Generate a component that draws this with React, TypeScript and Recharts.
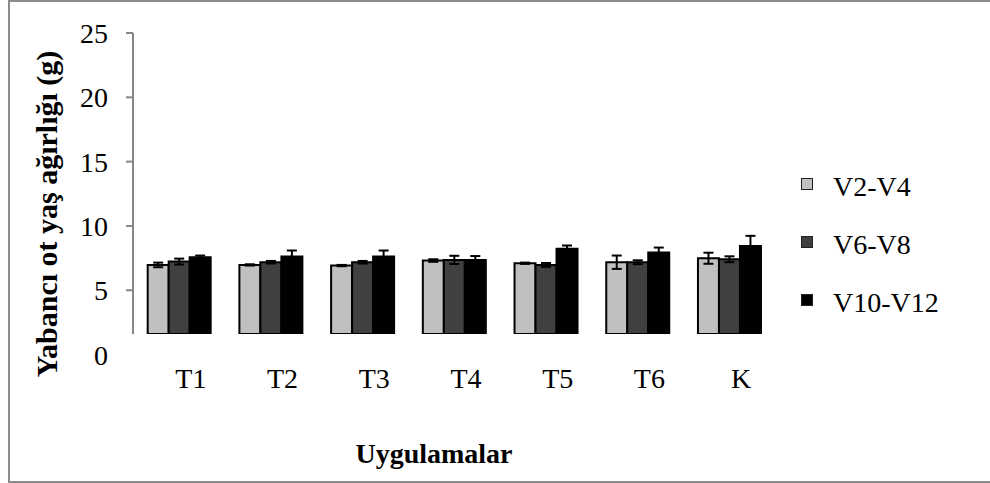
import React from 'react';
import { BarChart, Bar, XAxis, YAxis, ErrorBar, Legend, Label } from 'recharts';

const categories = ['T1', 'T2', 'T3', 'T4', 'T5', 'T6', 'K'];
const seriesNames = ['V2-V4', 'V6-V8', 'V10-V12'];
const seriesColors = ['#c0c0c0', '#404040', '#000000'];

const v2v4 = [6.97, 6.97, 6.92, 7.31, 7.1, 7.18, 7.49];
const v2v4Err = [0.18, 0.05, 0.05, 0.1, 0.05, 0.52, 0.43];
const v6v8 = [7.23, 7.18, 7.18, 7.36, 6.97, 7.18, 7.41];
const v6v8Err = [0.23, 0.1, 0.1, 0.32, 0.15, 0.15, 0.23];
const v10v12 = [7.57, 7.62, 7.62, 7.36, 8.22, 7.93, 8.45];
const v10v12Err = [0.13, 0.47, 0.47, 0.3, 0.26, 0.39, 0.78];

const yTicks = [0, 5, 10, 15, 20, 25];

const data = categories.map((name, i) => ({
  name,
  a: v2v4[i],
  aErr: v2v4Err[i],
  b: v6v8[i],
  bErr: v6v8Err[i],
  c: v10v12[i],
  cErr: v10v12Err[i],
}));

const FONT = '"Liberation Serif", "Times New Roman", serif';
const AXIS_GRAY = '#868686';

const YTick = (props: any) => {
  const { x, y, payload } = props;
  return (
    <g>
      {payload.value > 0 && (
        <line x1={x + 18} x2={x + 25} y1={y} y2={y} stroke={AXIS_GRAY} strokeWidth={2} />
      )}
      <text x={x} y={y} dy={10} textAnchor="end" fontSize={28} fontFamily={FONT} fill="#000">
        {payload.value}
      </text>
    </g>
  );
};

const XTick = (props: any) => {
  const { x, y, payload } = props;
  return (
    <text x={x + 12} y={y} dy={20} textAnchor="middle" fontSize={28} fontFamily={FONT} fill="#000">
      {payload.value}
    </text>
  );
};

const LegendContent = (props: any) => {
  const { payload = [] } = props;
  const items = [...payload].sort(
    (p: any, q: any) => seriesNames.indexOf(p.value) - seriesNames.indexOf(q.value)
  );
  return (
    <div style={{ fontFamily: FONT, fontSize: 28, color: '#000' }}>
      {items.map((entry: any) => (
        <div key={entry.value} style={{ display: 'flex', alignItems: 'center', height: 58 }}>
          <span
            style={{
              display: 'inline-block',
              width: 10,
              height: 10,
              background: entry.color,
              border: '1px solid #222',
              marginRight: 20,
              marginTop: -6,
            }}
          />
          <span>{entry.value}</span>
        </div>
      ))}
    </div>
  );
};

export default function App() {
  return (
    <div style={{ position: 'absolute', left: 0, top: 0, width: 990, height: 483, background: '#fff' }}>
      <div
        style={{
          position: 'absolute',
          left: 8,
          top: 0,
          width: 982,
          height: 483,
          boxSizing: 'border-box',
          border: '2px solid #8c8c8c',
          borderRight: 'none',
        }}
      />
      <div style={{ position: 'absolute', left: 0, top: 0 }}>
        <BarChart
          width={990}
          height={483}
          data={data}
          margin={{ top: 33, right: 215, bottom: 89, left: 0 }}
          barCategoryGap="16%"
          barGap={0}
        >
          <XAxis
            dataKey="name"
            axisLine={false}
            tickLine={false}
            tickSize={0}
            tickMargin={34}
            height={60}
            interval={0}
            tick={<XTick />}
          >
            <Label
              content={() => (
                <text x={434} y={463} textAnchor="middle" fontSize={28} fontWeight="bold" fontFamily={FONT} fill="#000">
                  Uygulamalar
                </text>
              )}
            />
          </XAxis>
          <YAxis
            width={133}
            domain={[1.6, 25]}
            allowDataOverflow
            ticks={yTicks}
            interval={0}
            tickLine={false}
            tickSize={7}
            tickMargin={18}
            axisLine={{ stroke: AXIS_GRAY, strokeWidth: 2 }}
            tick={<YTick />}
          >
            <Label
              content={() => (
                <text
                  x={57}
                  y={214}
                  transform="rotate(-90, 57, 214)"
                  textAnchor="middle"
                  fontSize={30}
                  fontWeight="bold"
                  fontFamily={FONT}
                  fill="#000"
                >
                  Yabancı ot yaş ağırlığı (g)
                </text>
              )}
            />
          </YAxis>
          <Legend
            layout="horizontal"
            align="center"
            verticalAlign="middle"
            content={<LegendContent />}
            wrapperStyle={{ position: 'absolute', left: 801, top: 158, width: 170 }}
          />
          <Bar dataKey="a" name={seriesNames[0]} fill={seriesColors[0]} stroke="#000" strokeWidth={2} isAnimationActive={false}>
            <ErrorBar dataKey="aErr" width={5} stroke="#000" strokeWidth={2} direction="y" />
          </Bar>
          <Bar dataKey="b" name={seriesNames[1]} fill={seriesColors[1]} stroke="#000" strokeWidth={2} isAnimationActive={false}>
            <ErrorBar dataKey="bErr" width={5} stroke="#000" strokeWidth={2} direction="y" />
          </Bar>
          <Bar dataKey="c" name={seriesNames[2]} fill={seriesColors[2]} stroke="#000" strokeWidth={2} isAnimationActive={false}>
            <ErrorBar dataKey="cErr" width={5} stroke="#000" strokeWidth={2} direction="y" />
          </Bar>
        </BarChart>
      </div>
    </div>
  );
}
